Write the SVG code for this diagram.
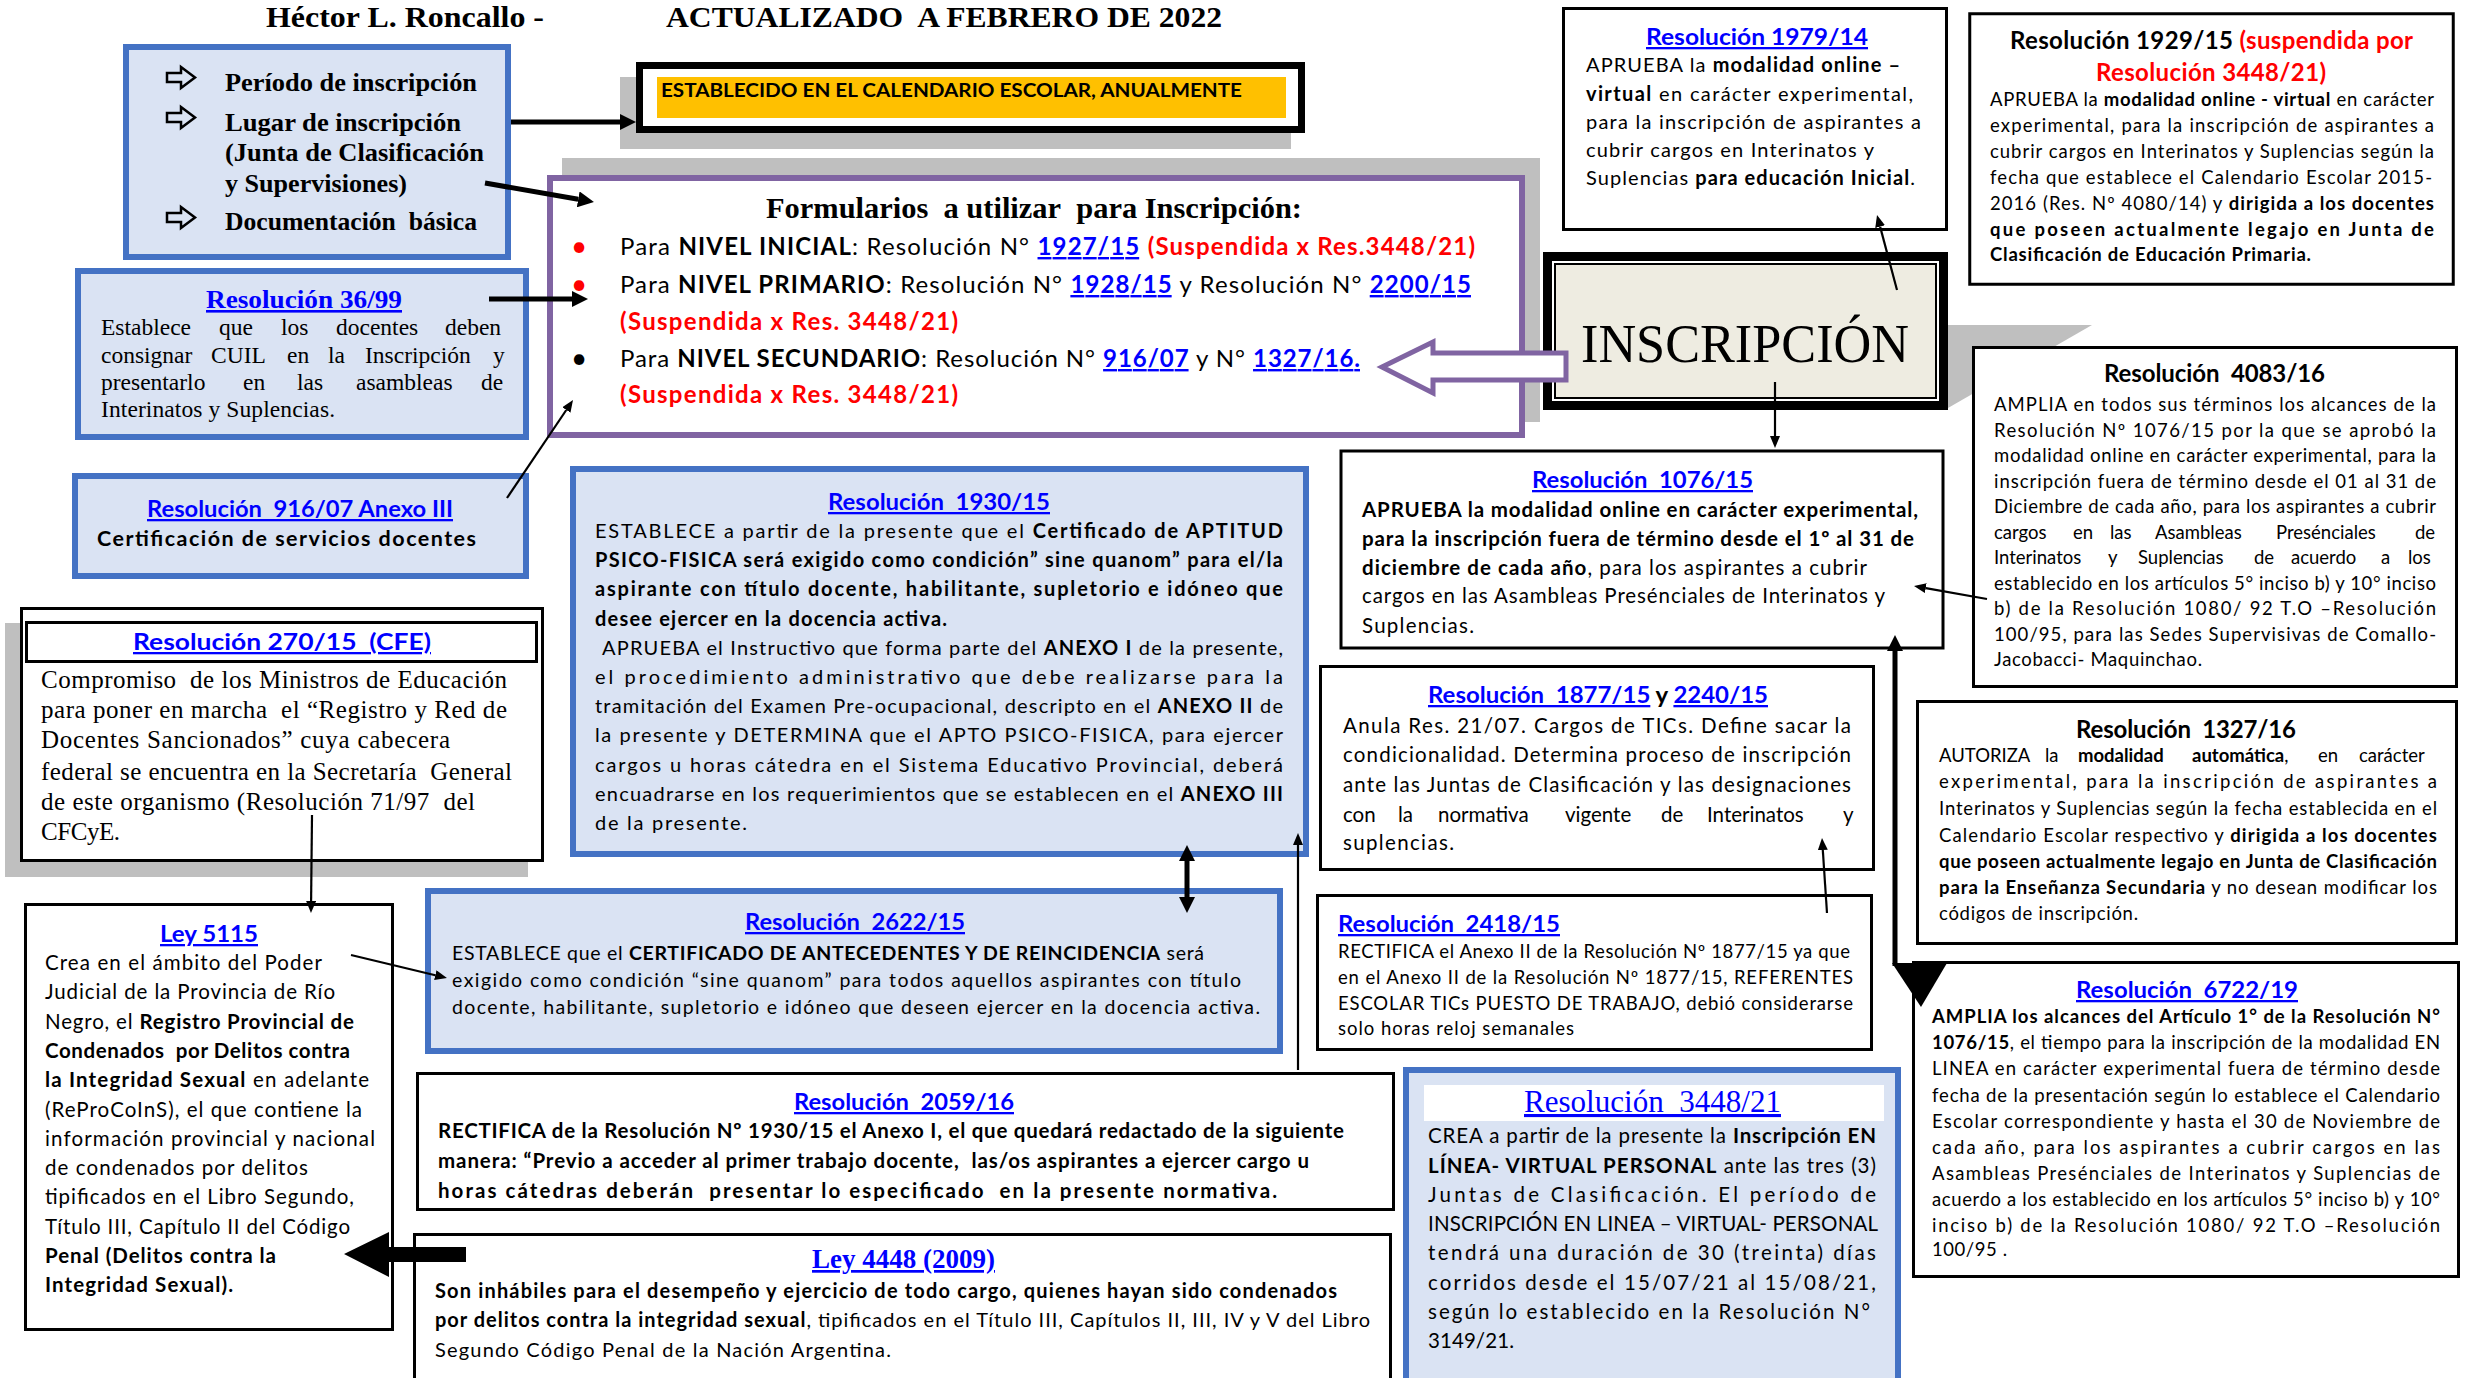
<svg xmlns="http://www.w3.org/2000/svg" width="2467" height="1378" viewBox="0 0 2467 1378">
<style>
.c{font-family:Lato,"Liberation Sans",sans-serif;fill:#000}
.t{font-family:"Liberation Serif","Times New Roman",serif;fill:#000}
.b{font-weight:bold}
.lk{fill:#0000FF;text-decoration:underline}
.rd{fill:#FF0000}
.bx{fill:#fff;stroke:#000;stroke-width:3}
.bl{fill:#DAE3F3;stroke:#4472C4;stroke-width:6}
.sh{fill:#BFBFBF}
.ln{fill:none;stroke:#000;stroke-width:2.2}
.tk{fill:none;stroke:#000;stroke-width:5}
.pa{fill:none;stroke:#000;stroke-width:2.5;stroke-linejoin:miter}
</style>
<defs>
<marker id="ah" markerUnits="userSpaceOnUse" viewBox="0 0 12 10" markerWidth="12" markerHeight="10" refX="0" refY="5" orient="auto"><path d="M0,0 L12,5 L0,10 z"/></marker>
<marker id="ahk" markerUnits="userSpaceOnUse" viewBox="0 0 16 16" markerWidth="16" markerHeight="16" refX="0" refY="8" orient="auto-start-reverse"><path d="M0,0 L16,8 L0,16 z"/></marker>
<path id="parr" d="M0,6 H14 V0 L28,10.5 L14,21 V15 H0 Z"/>
<clipPath id="clip2059"><rect x="416" y="1072" width="979" height="129"/></clipPath>
</defs>
<rect x="0" y="0" width="2467" height="1378" fill="#fff"/>

<g id="header" class="t b" font-size="30">
<text x="266" y="27" textLength="278" lengthAdjust="spacingAndGlyphs">Héctor L. Roncallo -</text>
<text x="666" y="27" textLength="556" lengthAdjust="spacingAndGlyphs">ACTUALIZADO&#160; A FEBRERO DE 2022</text>
</g>

<g id="periodo">
<rect class="bl" x="126" y="47" width="382" height="210"/>
<use href="#parr" x="167" y="67" class="pa"/>
<use href="#parr" x="167" y="107" class="pa"/>
<use href="#parr" x="167" y="207" class="pa"/>
<g class="t b" font-size="26">
<text x="225" y="91" textLength="252" lengthAdjust="spacingAndGlyphs">Período de inscripción</text>
<text x="225" y="131" textLength="236" lengthAdjust="spacingAndGlyphs">Lugar de inscripción</text>
<text x="225" y="161" textLength="259" lengthAdjust="spacingAndGlyphs">(Junta de Clasificación</text>
<text x="225" y="192" textLength="182" lengthAdjust="spacingAndGlyphs">y Supervisiones)</text>
<text x="225" y="230" textLength="252" lengthAdjust="spacingAndGlyphs">Documentación&#160; básica</text>
</g>
</g>

<g id="establecido">
<rect class="sh" x="620" y="77" width="671" height="72"/>
<rect x="639.5" y="65.5" width="662" height="64" fill="#fff" stroke="#000" stroke-width="7"/>
<rect x="657" y="77" width="629" height="41" fill="#FFC000"/>
<text class="c b" font-size="19" x="661" y="97" textLength="581" lengthAdjust="spacingAndGlyphs">ESTABLECIDO EN EL CALENDARIO ESCOLAR, ANUALMENTE</text>
</g>

<g id="formularios">
<rect class="sh" x="562" y="158" width="978" height="264"/>
<rect x="550" y="178" width="972" height="257" fill="#fff" stroke="#8064A2" stroke-width="6"/>
<text class="t b" font-size="29" x="766" y="218" textLength="536" lengthAdjust="spacingAndGlyphs">Formularios&#160; a utilizar&#160; para Inscripción:</text>
<g class="c" font-size="24">
<text x="571" y="256" class="rd" font-size="28">•</text>
<text x="571" y="294" class="rd" font-size="28">•</text>
<text x="571" y="368" font-size="28">•</text>
<text x="620" y="255" textLength="855" lengthAdjust="spacing">Para <tspan class="b">NIVEL INICIAL</tspan>: Resolución N° <tspan class="b lk">1927/15</tspan> <tspan class="b rd">(Suspendida x Res.3448/21)</tspan></text>
<text x="620" y="293" textLength="851" lengthAdjust="spacing">Para <tspan class="b">NIVEL PRIMARIO</tspan>: Resolución N° <tspan class="b lk">1928/15</tspan> y Resolución N° <tspan class="b lk">2200/15</tspan></text>
<text x="620" y="330" class="b rd" textLength="338" lengthAdjust="spacing">(Suspendida x Res. 3448/21)</text>
<text x="620" y="367" textLength="740" lengthAdjust="spacing">Para <tspan class="b">NIVEL SECUNDARIO</tspan>: Resolución N° <tspan class="b lk">916/07</tspan> y N° <tspan class="b lk">1327/16.</tspan></text>
<text x="620" y="403" class="b rd" textLength="338" lengthAdjust="spacing">(Suspendida x Res. 3448/21)</text>
</g>
</g>

<g id="r3699">
<rect class="bl" x="78" y="271" width="448" height="166"/>
<text class="t b lk" font-size="26" x="206" y="308" textLength="196" lengthAdjust="spacingAndGlyphs">Resolución 36/99</text>
<g class="t" font-size="23.5">
<text y="335"><tspan x="101">Establece</tspan><tspan x="219">que</tspan><tspan x="281">los</tspan><tspan x="336">docentes</tspan><tspan x="445">deben</tspan></text>
<text y="363"><tspan x="101">consignar</tspan><tspan x="211">CUIL</tspan><tspan x="287">en</tspan><tspan x="328">la</tspan><tspan x="365">Inscripción</tspan><tspan x="493">y</tspan></text>
<text y="390"><tspan x="101">presentarlo</tspan><tspan x="243">en</tspan><tspan x="297">las</tspan><tspan x="356">asambleas</tspan><tspan x="481">de</tspan></text>
<text x="101" y="417" textLength="234" lengthAdjust="spacing">Interinatos y Suplencias.</text>
</g>
</g>

<g id="r91607">
<rect class="bl" x="75" y="476" width="451" height="100"/>
<text class="c b lk" font-size="23" x="147" y="517" textLength="306" lengthAdjust="spacingAndGlyphs">Resolución&#160; 916/07 Anexo III</text>
<text class="c b" font-size="21.5" x="97" y="546" textLength="379" lengthAdjust="spacing">Certificación de servicios docentes</text>
</g>

<g id="r27015">
<rect class="sh" x="5" y="623" width="523" height="254"/>
<rect class="bx" x="21.5" y="608.5" width="521" height="252"/>
<rect class="bx" x="26.5" y="622.5" width="510" height="39"/>
<text class="c b lk" font-size="23" x="133" y="650" textLength="298" lengthAdjust="spacingAndGlyphs">Resolución 270/15&#160; (CFE)</text>
<g class="t" font-size="25">
<text x="41" y="688" textLength="466" lengthAdjust="spacing">Compromiso&#160; de los Ministros de Educación</text>
<text x="41" y="718" textLength="466" lengthAdjust="spacing">para poner en marcha&#160; el “Registro y Red de</text>
<text x="41" y="748" textLength="409" lengthAdjust="spacing">Docentes Sancionados” cuya cabecera</text>
<text x="41" y="780" textLength="471" lengthAdjust="spacing">federal se encuentra en la Secretaría&#160; General</text>
<text x="41" y="810" textLength="434" lengthAdjust="spacing">de este organismo (Resolución 71/97&#160; del</text>
<text x="41" y="840" textLength="79" lengthAdjust="spacing">CFCyE.</text>
</g>
</g>

<g id="ley5115">
<rect class="bx" x="25.5" y="904.5" width="367" height="425"/>
<text class="c b lk" font-size="23" x="160" y="942" textLength="98" lengthAdjust="spacingAndGlyphs">Ley 5115</text>
<g class="c" font-size="20.5">
<text x="45" y="970" textLength="277" lengthAdjust="spacing">Crea en el ámbito del Poder</text>
<text x="45" y="999" textLength="290" lengthAdjust="spacing">Judicial de la Provincia de Río</text>
<text x="45" y="1029" textLength="309" lengthAdjust="spacing">Negro, el <tspan class="b">Registro Provincial de</tspan></text>
<text x="45" y="1058" textLength="305" lengthAdjust="spacing" class="b">Condenados&#160; por Delitos contra</text>
<text x="45" y="1087" textLength="324" lengthAdjust="spacing"><tspan class="b">la Integridad Sexual</tspan> en adelante</text>
<text x="45" y="1117" textLength="317" lengthAdjust="spacing">(ReProCoInS), el que contiene la</text>
<text x="45" y="1146" textLength="330" lengthAdjust="spacing">información provincial y nacional</text>
<text x="45" y="1175" textLength="263" lengthAdjust="spacing">de condenados por delitos</text>
<text x="45" y="1204" textLength="309" lengthAdjust="spacing">tipificados en el Libro Segundo,</text>
<text x="45" y="1234" textLength="305" lengthAdjust="spacing">Título III, Capítulo II del Código</text>
<text x="45" y="1263" textLength="231" lengthAdjust="spacing" class="b">Penal (Delitos contra la</text>
<text x="45" y="1292" textLength="188" lengthAdjust="spacing" class="b">Integridad Sexual).</text>
</g>
</g>

<g id="r193015">
<rect class="bl" x="573" y="469" width="733" height="385"/>
<text class="c b lk" font-size="23" x="828" y="510" textLength="222" lengthAdjust="spacingAndGlyphs">Resolución&#160; 1930/15</text>
<g class="c" font-size="20">
<text x="595" y="538" textLength="688" lengthAdjust="spacing">ESTABLECE a partir de la presente que el <tspan class="b">Certificado de APTITUD</tspan></text>
<text x="595" y="567" textLength="688" lengthAdjust="spacing" class="b">PSICO-FISICA será exigido como condición” sine quanom” para el/la</text>
<text x="595" y="596" textLength="688" lengthAdjust="spacing" class="b">aspirante con título docente, habilitante, supletorio e idóneo que</text>
<text x="595" y="626" textLength="352" lengthAdjust="spacing" class="b">desee ejercer en la docencia activa.</text>
<text x="602" y="655" textLength="681" lengthAdjust="spacing">APRUEBA el Instructivo que forma parte del <tspan class="b">ANEXO I</tspan> de la presente,</text>
<text x="595" y="684" textLength="688" lengthAdjust="spacing">el procedimiento administrativo que debe realizarse para la</text>
<text x="595" y="713" textLength="688" lengthAdjust="spacing">tramitación del Examen Pre-ocupacional, descripto en el <tspan class="b">ANEXO II</tspan> de</text>
<text x="595" y="742" textLength="688" lengthAdjust="spacing">la presente y DETERMINA que el APTO PSICO-FISICA, para ejercer</text>
<text x="595" y="772" textLength="688" lengthAdjust="spacing">cargos u horas cátedra en el Sistema Educativo Provincial, deberá</text>
<text x="595" y="801" textLength="688" lengthAdjust="spacing">encuadrarse en los requerimientos que se establecen en el <tspan class="b">ANEXO III</tspan></text>
<text x="595" y="830" textLength="152" lengthAdjust="spacing">de la presente.</text>
</g>
</g>

<g id="r262215">
<rect class="bl" x="428" y="891" width="852" height="160"/>
<text class="c b lk" font-size="23" x="745" y="930" textLength="220" lengthAdjust="spacingAndGlyphs">Resolución&#160; 2622/15</text>
<g class="c" font-size="19.5">
<text x="452" y="960" textLength="752" lengthAdjust="spacing">ESTABLECE que el <tspan class="b">CERTIFICADO DE ANTECEDENTES Y DE REINCIDENCIA</tspan> será</text>
<text x="452" y="987" textLength="789" lengthAdjust="spacing">exigido como condición “sine quanom” para todos aquellos aspirantes con título</text>
<text x="452" y="1014" textLength="808" lengthAdjust="spacing">docente, habilitante, supletorio e idóneo que deseen ejercer en la docencia activa.</text>
</g>
</g>

<g id="r205916">
<rect class="bx" x="417.5" y="1073.5" width="976" height="136"/>
<text class="c b lk" font-size="23" x="794" y="1110" textLength="220" lengthAdjust="spacingAndGlyphs">Resolución&#160; 2059/16</text>
<g class="c b" font-size="20.5" clip-path="url(#clip2059)">
<text x="438" y="1138" textLength="906" lengthAdjust="spacing">RECTIFICA de la Resolución Nº 1930/15 el Anexo I, el que quedará redactado de la siguiente</text>
<text x="438" y="1168" textLength="871" lengthAdjust="spacing">manera: “Previo a acceder al primer trabajo docente,&#160; las/os aspirantes a ejercer cargo u</text>
<text x="438" y="1198" textLength="839" lengthAdjust="spacing">horas cátedras deberán&#160; presentar lo especificado&#160; en la presente normativa.</text>
</g>
</g>

<g id="ley4448">
<rect class="bx" x="414.5" y="1234.5" width="976" height="160"/>
<text class="t b lk" font-size="27" x="812" y="1268" textLength="183" lengthAdjust="spacingAndGlyphs">Ley 4448 (2009)</text>
<g class="c" font-size="20">
<text x="435" y="1298" textLength="902" lengthAdjust="spacing" class="b">Son inhábiles para el desempeño y ejercicio de todo cargo, quienes hayan sido condenados</text>
<text x="435" y="1327" textLength="935" lengthAdjust="spacing"><tspan class="b">por delitos contra la integridad sexual</tspan>, tipificados en el Título III, Capítulos II, III, IV y V del Libro</text>
<text x="435" y="1357" textLength="456" lengthAdjust="spacing">Segundo Código Penal de la Nación Argentina.</text>
</g>
</g>

<g id="inscripcion">
<polygon class="sh" points="1948,325 2092,325 1948,408"/>
<rect x="1543" y="252" width="405" height="158" fill="#000"/>
<rect x="1552" y="261" width="387" height="140" fill="#fff"/>
<rect x="1555" y="264" width="381" height="134" fill="#EEECE1" stroke="#000" stroke-width="2"/>
<text class="t" font-size="54" x="1581" y="362" textLength="328" lengthAdjust="spacingAndGlyphs">INSCRIPCIÓN</text>
</g>

<g id="r197914">
<rect class="bx" x="1563.5" y="8.5" width="383" height="221"/>
<text class="c b lk" font-size="23" x="1646" y="45" textLength="222" lengthAdjust="spacingAndGlyphs">Resolución 1979/14</text>
<g class="c" font-size="20">
<text x="1586" y="72" textLength="314" lengthAdjust="spacing">APRUEBA la <tspan class="b">modalidad online –</tspan></text>
<text x="1586" y="101" textLength="327" lengthAdjust="spacing"><tspan class="b">virtual</tspan> en carácter experimental,</text>
<text x="1586" y="129" textLength="335" lengthAdjust="spacing">para la inscripción de aspirantes a</text>
<text x="1586" y="157" textLength="288" lengthAdjust="spacing">cubrir cargos en Interinatos y</text>
<text x="1586" y="185" textLength="329" lengthAdjust="spacing">Suplencias <tspan class="b">para educación Inicial</tspan>.</text>
</g>
</g>

<g id="r192915">
<rect class="bx" x="1969.75" y="13.75" width="483.5" height="270.5" stroke-width="3.5"/>
<g class="c b" font-size="24">
<text x="2010" y="49" textLength="403" lengthAdjust="spacing">Resolución 1929/15 <tspan class="rd">(suspendida por</tspan></text>
<text x="2096" y="81" textLength="230" lengthAdjust="spacing" class="rd">Resolución 3448/21)</text>
</g>
<g class="c" font-size="18.5">
<text x="1990" y="106" textLength="444" lengthAdjust="spacing">APRUEBA la <tspan class="b">modalidad online - virtual</tspan> en carácter</text>
<text x="1990" y="132" textLength="444" lengthAdjust="spacing">experimental, para la inscripción de aspirantes a</text>
<text x="1990" y="158" textLength="444" lengthAdjust="spacing">cubrir cargos en Interinatos y Suplencias según la</text>
<text x="1990" y="184" textLength="442" lengthAdjust="spacing">fecha que establece el Calendario Escolar 2015-</text>
<text x="1990" y="210" textLength="444" lengthAdjust="spacing">2016 (Res. Nº 4080/14) y <tspan class="b">dirigida a los docentes</tspan></text>
<text x="1990" y="236" textLength="444" lengthAdjust="spacing" class="b">que poseen actualmente legajo en Junta de</text>
<text x="1990" y="261" textLength="321" lengthAdjust="spacing" class="b">Clasificación de Educación Primaria.</text>
</g>
</g>

<g id="r408316">
<rect class="bx" x="1973.5" y="347.5" width="483" height="339"/>
<text class="c b" font-size="24" x="2104" y="382" textLength="221" lengthAdjust="spacing">Resolución&#160; 4083/16</text>
<g class="c" font-size="18.5">
<text x="1994" y="411" textLength="442" lengthAdjust="spacing">AMPLIA en todos sus términos los alcances de la</text>
<text x="1994" y="436.5" textLength="442" lengthAdjust="spacing">Resolución Nº 1076/15 por la que se aprobó la</text>
<text x="1994" y="462" textLength="442" lengthAdjust="spacing">modalidad online en carácter experimental, para la</text>
<text x="1994" y="487.5" textLength="442" lengthAdjust="spacing">inscripción fuera de término desde el 01 al 31 de</text>
<text x="1994" y="513" textLength="442" lengthAdjust="spacing">Diciembre de cada año, para los aspirantes a cubrir</text>
<text y="538.5"><tspan x="1994">cargos</tspan><tspan x="2073">en</tspan><tspan x="2110">las</tspan><tspan x="2155">Asambleas</tspan><tspan x="2276">Presénciales</tspan><tspan x="2415">de</tspan></text>
<text y="564"><tspan x="1994">Interinatos</tspan><tspan x="2108">y</tspan><tspan x="2138">Suplencias</tspan><tspan x="2254">de</tspan><tspan x="2291">acuerdo</tspan><tspan x="2381">a</tspan><tspan x="2408">los</tspan></text>
<text x="1994" y="589.5" textLength="442" lengthAdjust="spacing">establecido en los artículos 5° inciso b) y 10° inciso</text>
<text x="1994" y="615" textLength="442" lengthAdjust="spacing">b) de la Resolución 1080/ 92 T.O –Resolución</text>
<text x="1994" y="640.5" textLength="442" lengthAdjust="spacing">100/95, para las Sedes Supervisivas de Comallo-</text>
<text x="1994" y="666" textLength="208" lengthAdjust="spacing">Jacobacci- Maquinchao.</text>
</g>
</g>

<g id="r132716">
<rect class="bx" x="1917.5" y="701.5" width="539" height="242"/>
<text class="c b" font-size="24" x="2076" y="738" textLength="220" lengthAdjust="spacing">Resolución&#160; 1327/16</text>
<g class="c" font-size="18.5">
<text y="762"><tspan x="1939">AUTORIZA</tspan><tspan x="2045">la</tspan><tspan x="2078" class="b">modalidad</tspan><tspan x="2192" class="b">automática</tspan><tspan>,</tspan><tspan x="2318">en</tspan><tspan x="2359">carácter</tspan></text>
<text x="1939" y="788" textLength="498" lengthAdjust="spacing">experimental, para la inscripción de aspirantes a</text>
<text x="1939" y="815" textLength="498" lengthAdjust="spacing">Interinatos y Suplencias según la fecha establecida en el</text>
<text x="1939" y="842" textLength="498" lengthAdjust="spacing">Calendario Escolar respectivo y <tspan class="b">dirigida a los docentes</tspan></text>
<text x="1939" y="868" textLength="498" lengthAdjust="spacing" class="b">que poseen actualmente legajo en Junta de Clasificación</text>
<text x="1939" y="894" textLength="498" lengthAdjust="spacing"><tspan class="b">para la Enseñanza Secundaria</tspan> y no desean modificar los</text>
<text x="1939" y="920" textLength="199" lengthAdjust="spacing">códigos de inscripción.</text>
</g>
</g>

<g id="r107615">
<rect class="bx" x="1341" y="451" width="602" height="197" stroke-width="4"/>
<text class="c b lk" font-size="23" x="1532" y="488" textLength="221" lengthAdjust="spacingAndGlyphs">Resolución&#160; 1076/15</text>
<g class="c" font-size="20.5">
<text x="1362" y="517" textLength="556" lengthAdjust="spacing" class="b">APRUEBA la modalidad online en carácter experimental,</text>
<text x="1362" y="546" textLength="552" lengthAdjust="spacing" class="b">para la inscripción fuera de término desde el 1º al 31 de</text>
<text x="1362" y="575" textLength="505" lengthAdjust="spacing"><tspan class="b">diciembre de cada año</tspan>, para los aspirantes a cubrir</text>
<text x="1362" y="603" textLength="523" lengthAdjust="spacing">cargos en las Asambleas Presénciales de Interinatos y</text>
<text x="1362" y="633" textLength="112" lengthAdjust="spacing">Suplencias.</text>
</g>
</g>

<g id="r187715">
<rect class="bx" x="1320.5" y="666.5" width="553" height="203" stroke-width="7"/>
<text class="c b" font-size="23" x="1428" y="703" textLength="340" lengthAdjust="spacingAndGlyphs"><tspan class="lk">Resolución&#160; 1877/15</tspan> y <tspan class="lk">2240/15</tspan></text>
<g class="c" font-size="20.5">
<text x="1343" y="733" textLength="508" lengthAdjust="spacing">Anula Res. 21/07. Cargos de TICs. Define sacar la</text>
<text x="1343" y="762" textLength="508" lengthAdjust="spacing">condicionalidad. Determina proceso de inscripción</text>
<text x="1343" y="792" textLength="508" lengthAdjust="spacing">ante las Juntas de Clasificación y las designaciones</text>
<text y="822"><tspan x="1343">con</tspan><tspan x="1398">la</tspan><tspan x="1438">normativa</tspan><tspan x="1565">vigente</tspan><tspan x="1661">de</tspan><tspan x="1707">Interinatos</tspan><tspan x="1843">y</tspan></text>
<text x="1343" y="850" textLength="111" lengthAdjust="spacing">suplencias.</text>
</g>
</g>

<g id="r241815">
<rect class="bx" x="1317.5" y="895.5" width="554" height="154" stroke-width="5"/>
<text class="c b lk" font-size="23" x="1338" y="932" textLength="222" lengthAdjust="spacingAndGlyphs">Resolución&#160; 2418/15</text>
<g class="c" font-size="18.5">
<text x="1338" y="958" textLength="512" lengthAdjust="spacing">RECTIFICA el Anexo II de la Resolución Nº 1877/15 ya que</text>
<text x="1338" y="984" textLength="515" lengthAdjust="spacing">en el Anexo II de la Resolución Nº 1877/15, REFERENTES</text>
<text x="1338" y="1010" textLength="515" lengthAdjust="spacing">ESCOLAR TICs PUESTO DE TRABAJO, debió considerarse</text>
<text x="1338" y="1035" textLength="236" lengthAdjust="spacing">solo horas reloj semanales</text>
</g>
</g>

<g id="r344821">
<rect class="bl" x="1406" y="1070" width="492" height="330"/>
<rect x="1424" y="1085" width="460" height="36" fill="#fff"/>
<text class="t lk" font-size="31" x="1524" y="1112" textLength="257" lengthAdjust="spacingAndGlyphs">Resolución&#160; 3448/21</text>
<g class="c" font-size="20.5">
<text x="1428" y="1143" textLength="448" lengthAdjust="spacing">CREA a partir de la presente la <tspan class="b">Inscripción EN</tspan></text>
<text x="1428" y="1173" textLength="448" lengthAdjust="spacing"><tspan class="b">LÍNEA- VIRTUAL PERSONAL</tspan> ante las tres (3)</text>
<text x="1428" y="1202" textLength="448" lengthAdjust="spacing">Juntas de Clasificación. El período de</text>
<text x="1428" y="1231" textLength="450" lengthAdjust="spacing">INSCRIPCIÓN EN LINEA – VIRTUAL- PERSONAL</text>
<text x="1428" y="1260" textLength="448" lengthAdjust="spacing">tendrá una duración de 30 (treinta) días</text>
<text x="1428" y="1290" textLength="448" lengthAdjust="spacing">corridos desde el 15/07/21 al 15/08/21,</text>
<text x="1428" y="1319" textLength="442" lengthAdjust="spacing">según lo establecido en la Resolución N°</text>
<text x="1428" y="1348" textLength="86" lengthAdjust="spacing">3149/21.</text>
</g>
</g>

<g id="r672219">
<rect class="bx" x="1913.5" y="962.5" width="545" height="314"/>
<text class="c b lk" font-size="23" x="2076" y="998" textLength="222" lengthAdjust="spacingAndGlyphs">Resolución&#160; 6722/19</text>
<g class="c" font-size="18.5">
<text x="1932" y="1023" textLength="508" lengthAdjust="spacing" class="b">AMPLIA los alcances del Artículo 1° de la Resolución N°</text>
<text x="1932" y="1049" textLength="508" lengthAdjust="spacing"><tspan class="b">1076/15</tspan>, el tiempo para la inscripción de la modalidad EN</text>
<text x="1932" y="1075" textLength="508" lengthAdjust="spacing">LINEA en carácter experimental fuera de término desde</text>
<text x="1932" y="1102" textLength="508" lengthAdjust="spacing">fecha de la presentación según lo establece el Calendario</text>
<text x="1932" y="1128" textLength="508" lengthAdjust="spacing">Escolar correspondiente y hasta el 30 de Noviembre de</text>
<text x="1932" y="1154" textLength="508" lengthAdjust="spacing">cada año, para los aspirantes a cubrir cargos en las</text>
<text x="1932" y="1180" textLength="508" lengthAdjust="spacing">Asambleas Presénciales de Interinatos y Suplencias de</text>
<text x="1932" y="1206" textLength="508" lengthAdjust="spacing">acuerdo a los establecido en los artículos 5° inciso b) y 10°</text>
<text x="1932" y="1232" textLength="508" lengthAdjust="spacing">inciso b) de la Resolución 1080/ 92 T.O –Resolución</text>
<text x="1932" y="1256" textLength="75" lengthAdjust="spacing">100/95 .</text>
</g>
</g>

<g id="connectors">
<line class="tk" x1="511" y1="122" x2="620" y2="122" marker-end="url(#ahk)"/>
<line class="tk" x1="485" y1="183" x2="578.2" y2="199.3" marker-end="url(#ahk)"/>
<line class="tk" x1="489" y1="299" x2="572" y2="299" marker-end="url(#ahk)"/>
<line class="ln" x1="507" y1="498" x2="566.3" y2="410" marker-end="url(#ah)"/>
<line class="ln" x1="1897" y1="290" x2="1880.1" y2="226.6" marker-end="url(#ah)"/>
<line class="ln" x1="1775" y1="382" x2="1775" y2="436" marker-end="url(#ah)"/>
<line class="ln" x1="1987" y1="599" x2="1925.8" y2="588.1" marker-end="url(#ah)"/>
<line class="tk" x1="1895" y1="966" x2="1895" y2="651" marker-end="url(#ahk)"/>
<polygon points="1892,963 1947,963 1921,1007" fill="#000"/>
<line class="ln" x1="1827" y1="913" x2="1822.8" y2="850" marker-end="url(#ah)"/>
<line class="ln" x1="312" y1="815" x2="311.1" y2="901" marker-end="url(#ah)"/>
<line class="ln" x1="351" y1="955" x2="435.3" y2="975.2" marker-end="url(#ah)"/>
<polygon points="344,1254 389,1232 389,1247 466,1247 466,1262 389,1262 389,1277" fill="#000"/>
<line class="tk" x1="1187" y1="861" x2="1187" y2="897" stroke-width="4" marker-start="url(#ahk)" marker-end="url(#ahk)"/>
<line class="ln" x1="1298" y1="1070" x2="1298" y2="845" marker-end="url(#ah)"/>
<polygon points="1382,367 1433,342 1433,353 1566,353 1566,380 1433,380 1433,393" fill="#fff" stroke="#8064A2" stroke-width="5" stroke-linejoin="miter"/>
</g>
</svg>
